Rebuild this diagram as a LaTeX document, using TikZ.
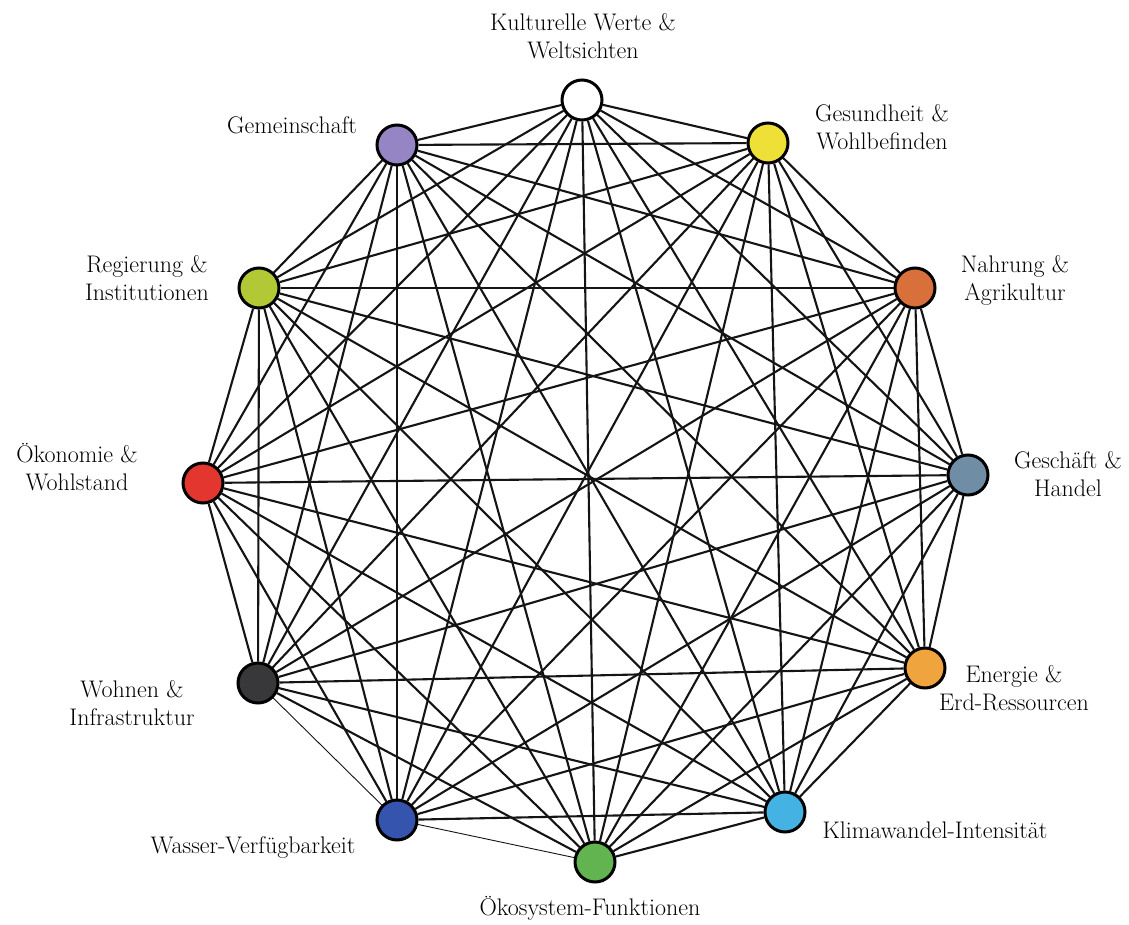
\documentclass[tikz,border=0pt]{standalone}
\usetikzlibrary{backgrounds}
\definecolor{cKult}{HTML}{FFFFFF}
\definecolor{cGes}{HTML}{EEE036}
\definecolor{cNahr}{HTML}{D8703C}
\definecolor{cGesch}{HTML}{6F8EA6}
\definecolor{cEner}{HTML}{F0A43E}
\definecolor{cKlima}{HTML}{44B2E2}
\definecolor{cOeko}{HTML}{62B450}
\definecolor{cWass}{HTML}{3554AE}
\definecolor{cWohn}{HTML}{38383A}
\definecolor{cOekon}{HTML}{E2362F}
\definecolor{cReg}{HTML}{B2C834}
\definecolor{cGem}{HTML}{9585C4}
\tikzset{
  dot/.style={circle, draw=black, line width=3pt, minimum size=40pt, inner sep=0pt},
  lab/.style={align=center, inner sep=0pt, font=\fontsize{24}{28}\selectfont, text=black},
  edge/.style={draw=black!92, line width=2.1pt}
}
\begin{document}
\begin{tikzpicture}[x=1pt,y=-1pt]
\useasboundingbox (0,0) rectangle (1129,925);
% nodes
\node[dot, fill=cKult]  (n1)  at (582,100) {};
\node[dot, fill=cGes]   (n2)  at (768,143) {};
\node[dot, fill=cNahr]  (n3)  at (915,288) {};
\node[dot, fill=cGesch] (n4)  at (968,475) {};
\node[dot, fill=cEner]  (n5)  at (925,668) {};
\node[dot, fill=cKlima] (n6)  at (785,812) {};
\node[dot, fill=cOeko]  (n7)  at (595,862) {};
\node[dot, fill=cWass]  (n8)  at (397,820) {};
\node[dot, fill=cWohn]  (n9)  at (258,683) {};
\node[dot, fill=cOekon] (n10) at (203,483) {};
\node[dot, fill=cReg]   (n11) at (259,288) {};
\node[dot, fill=cGem]   (n12) at (397,145) {};
% edges
\begin{pgfonlayer}{background}
\fill[white] (0,0) rectangle (1129,925);
\foreach \i in {1,...,11}{
  \pgfmathtruncatemacro\s{\i+1}
  \foreach \j in {\s,...,12}{
    \pgfmathsetmacro\lw{((\i==7)&&(\j==8))||((\i==8)&&(\j==9)) ? 0.9 : 2.1}
    \draw[edge, line width=\lw pt] (n\i) -- (n\j);
  }
}
\end{pgfonlayer}
% labels
\node[lab] (l1)  at (583,36)  {Kulturelle Werte \&\\Weltsichten};
\node[lab] (l2)  at (882,127) {Gesundheit \&\\Wohlbefinden};
\node[lab] (l3)  at (1015,280) {Nahrung \&\\Agrikultur};
\node[lab] (l4)  at (1068,474) {Geschäft \&\\Handel};
\node[lab] (l5)  at (1014,688) {Energie \&\\Erd-Ressourcen};
\node[lab] (l6)  at (935,830) {Klimawandel-Intensität};
\node[lab] (l7)  at (590,908) {Ökosystem-Funktionen};
\node[lab] (l8)  at (253,848) {Wasser-Verfügbarkeit};
\node[lab] (l9)  at (132,703) {Wohnen \&\\Infrastruktur};
\node[lab] (l10) at (77,467)  {Ökonomie \&\\Wohlstand};
\node[lab] (l11) at (147,278) {Regierung \&\\Institutionen};
\node[lab] (l12) at (292,125) {Gemeinschaft};
\end{tikzpicture}
\end{document}
